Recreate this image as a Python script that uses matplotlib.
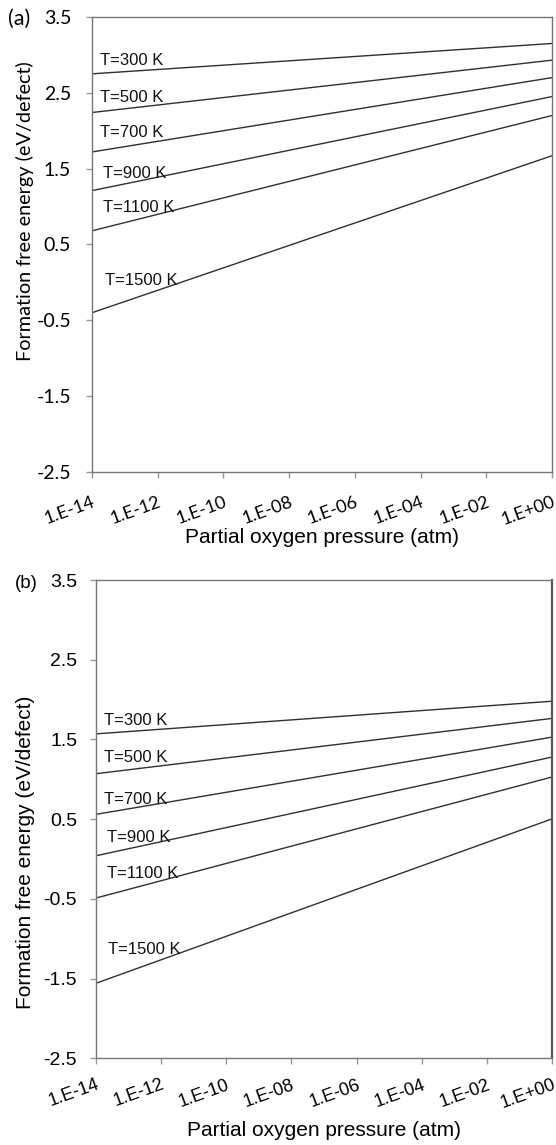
import matplotlib
matplotlib.use("Agg")
import matplotlib.pyplot as plt
from matplotlib.ticker import FixedLocator, FixedFormatter

plt.rcParams['font.family'] = ['Liberation Sans', 'DejaVu Sans']

# partial oxygen pressure (atm), line end points
pressure = [1e-14, 1.0]
temps = ["T=300 K", "T=500 K", "T=700 K", "T=900 K", "T=1100 K", "T=1500 K"]

# panel (a): energy at 1e-14 atm and at 1 atm
a_start = [2.75, 2.24, 1.72, 1.21, 0.68, -0.40]
a_end = [3.15, 2.93, 2.70, 2.45, 2.20, 1.67]
a_label_y = [2.92, 2.44, 1.97, 1.44, 0.99, 0.02]

# panel (b)
b_start = [1.57, 1.07, 0.56, 0.04, -0.49, -1.56]
b_end = [1.98, 1.765, 1.53, 1.28, 1.03, 0.505]
b_label_y = [1.74, 1.27, 0.75, 0.27, -0.18, -1.14]

label_x = [1.8e-14, 1.8e-14, 1.8e-14, 2.2e-14, 2.2e-14, 2.4e-14]
xticks = [1e-14, 1e-12, 1e-10, 1e-08, 1e-06, 1e-04, 1e-02, 1e+00]
xtick_labels = ["1.E-14", "1.E-12", "1.E-10", "1.E-08", "1.E-06", "1.E-04", "1.E-02", "1.E+00"]
yticks = [-2.5, -1.5, -0.5, 0.5, 1.5, 2.5, 3.5]

fig = plt.figure(figsize=(5.56, 11.45), dpi=100)
ax_a = fig.add_axes([0.1655, 0.5878, 0.8273, 0.3974])
ax_b = fig.add_axes([0.172, 0.0757, 0.8213, 0.4177])


def draw_panel(ax, starts, ends, label_y, font, xpad, ypad, xlab_y, ylab_x, ylab_y, ylab_size):
    for s, e, name, lx, ly in zip(starts, ends, temps, label_x, label_y):
        ax.plot(pressure, [s, e], color='#303030', lw=1.0)
        ax.text(lx, ly, name, fontsize=12, va='center', ha='left', color='#111111')
    ax.set_xscale('log')
    ax.set_xlim(1e-14, 1.0)
    ax.set_ylim(-2.5, 3.5)
    ax.xaxis.set_major_locator(FixedLocator(xticks))
    ax.xaxis.set_minor_locator(FixedLocator([]))
    ax.xaxis.set_major_formatter(FixedFormatter(xtick_labels))
    ax.set_yticks(yticks)
    ax.set_yticklabels([f"{v:.1f}" for v in yticks], fontsize=14, family=font)
    for lbl in ax.get_xticklabels():
        lbl.set_rotation(20)
        lbl.set_ha('right')
        lbl.set_va('top')
        lbl.set_rotation_mode('anchor')
        lbl.set_fontsize(13)
        lbl.set_family(font)
    ax.tick_params(axis='both', direction='out', length=4.3, color='#999999', width=1)
    ax.tick_params(axis='x', pad=xpad)
    ax.tick_params(axis='y', pad=ypad)
    for sp in ax.spines.values():
        sp.set_color('#777777')
        sp.set_linewidth(1.0)
    ax.set_xlabel("Partial oxygen pressure (atm)", fontsize=15)
    ax.set_ylabel("Formation free energy (eV/defect)", fontsize=ylab_size, family=font)
    ax.xaxis.set_label_coords(0.5, xlab_y)
    ax.yaxis.set_label_coords(ylab_x, ylab_y)


draw_panel(ax_a, a_start, a_end, a_label_y, ['Lato', 'DejaVu Sans'], 11.5, 10.8, -0.123, -0.126, 0.574, 14.3)
draw_panel(ax_b, b_start, b_end, b_label_y, ['Liberation Sans', 'DejaVu Sans'], 8.6, 9.0, -0.132, -0.133, 0.431, 15)
ax_b.spines['right'].set_color('#555555')
ax_b.spines['right'].set_linewidth(1.6)

fig.text(8 / 556, 1 - 19 / 1145, "(a)", fontsize=15.5, va='center', ha='left', family=['Lato', 'DejaVu Sans'])
fig.text(15 / 556, 1 - 583 / 1145, "(b)", fontsize=13.5, va='center', ha='left')

fig.savefig("out.png", dpi=100)
